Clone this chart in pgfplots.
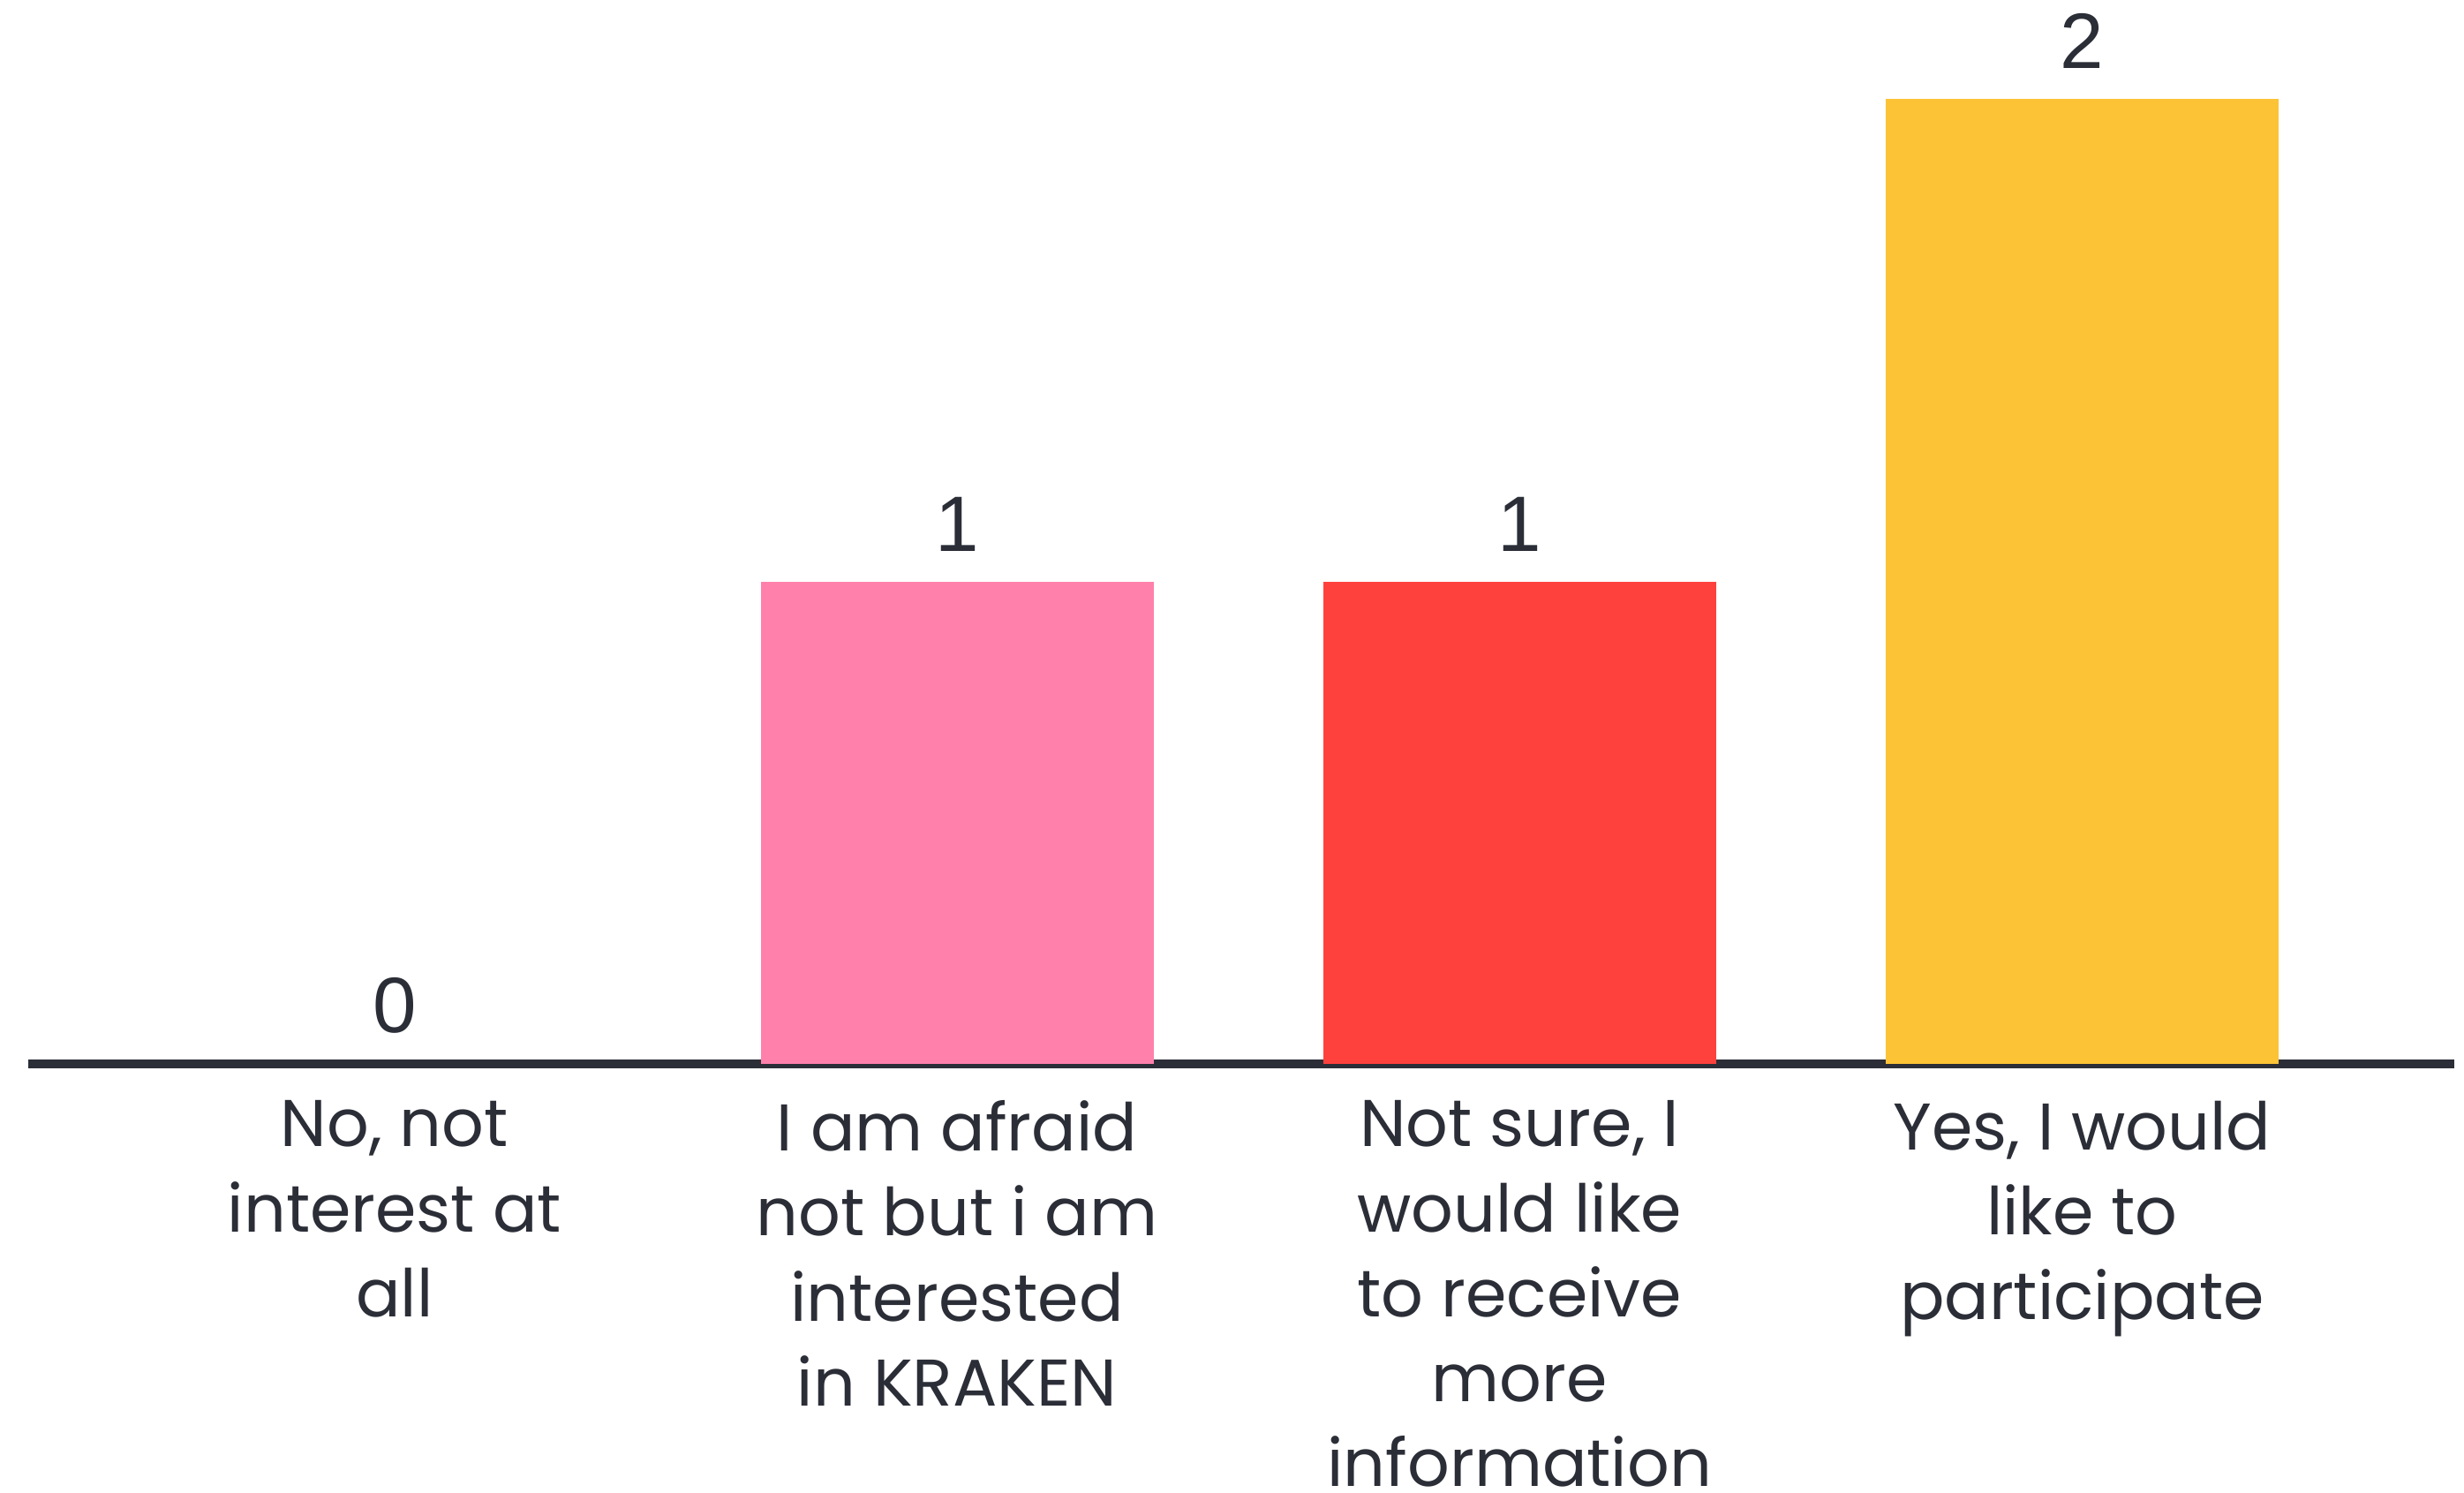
\documentclass[border=0pt]{standalone}
\usepackage{pgfplots}
\pgfplotsset{compat=1.18}
\usepackage{fontspec}
\setmainfont{Poppins}
\newfontfamily\numfont{Liberation Sans}
\definecolor{ink}{HTML}{2B2E37}
\definecolor{pinkc}{HTML}{FF80AB}
\definecolor{redc}{HTML}{FF413E}
\definecolor{yellowc}{HTML}{FCC336}
\begin{document}
\begin{tikzpicture}
\useasboundingbox (-9pt,-136.5pt) rectangle (775pt,338.5pt);
\begin{axis}[
  scale only axis, width=772pt, height=338.5pt,
  xmin=-0.651, xmax=3.662, ymin=0, ymax=2.205,
  axis x line=bottom, axis y line=none,
  x axis line style={-, line width=2.6pt, draw=ink},
  xtick={0,1,2,3},
  xticklabels={{No, not\\interest at\\all},{I am afraid\\not but i am\\interested\\in KRAKEN},{Not sure, I\\would like\\to receive\\more\\information},{Yes, I would\\like to\\participate}},
  major tick length=0pt, xtick style={draw=none},
  xticklabel style={align=center, font=\fontsize{21}{27}\selectfont, text=ink, anchor=north, inner sep=0pt, yshift=-11.5pt},
  /pgf/number format/assume math mode=true,
  nodes near coords,
  nodes near coords style={font=\numfont\fontsize{25}{30}\selectfont, text=ink, anchor=south, inner sep=0pt, yshift=9.5pt},
  point meta=y,
  clip=false,
]
\addplot[ybar, bar width=125pt, bar shift=0pt, draw=none, fill=none] coordinates {(0,0)};
\addplot[ybar, bar width=125pt, bar shift=0pt, draw=none, fill=pinkc] coordinates {(1,1)};
\addplot[ybar, bar width=125pt, bar shift=0pt, draw=none, fill=redc] coordinates {(2,1)};
\addplot[ybar, bar width=125pt, bar shift=0pt, draw=none, fill=yellowc] coordinates {(3,2)};
\end{axis}
\end{tikzpicture}
\end{document}
